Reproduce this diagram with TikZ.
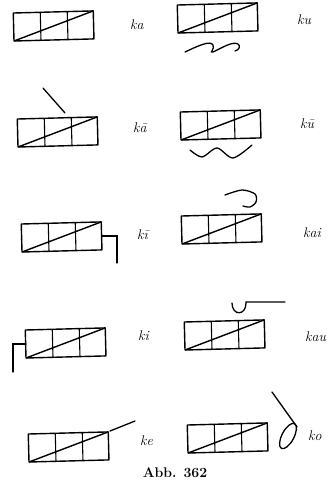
\documentclass[tikz,border=0pt]{standalone}
\usepackage{amsmath}
\usepackage{amssymb}
\usepackage{tikz}

% Grundzeichen: drei Felder mit Schraegstrich
\newcommand{\kasten}[2]{%
  \begin{scope}[shift={(#1,#2)},rotate=1.5]
    \draw[rahmen] (0,0) rectangle (80,-28);
    \draw[teil] (27,0) -- (27,-28) (54,0) -- (54,-28);
    \draw[rahmen] (0,0) -- (80,-28);
  \end{scope}}

\begin{document}
\begin{tikzpicture}[x=1pt,y=-1pt,
    rahmen/.style={line width=1.4pt,line join=round},
    teil/.style={line width=1.1pt},
    strich/.style={line width=1.3pt,line cap=round},
    silbe/.style={anchor=west,inner sep=0pt,font=\fontsize{14}{16}\selectfont\itshape}]
        \useasboundingbox (0,0) rectangle (331,484);
        % linke Spalte
        \kasten{14}{41}
        \node[silbe] (ka) at (130,25) {ka};
        \kasten{18}{147}
        \draw[strich] (43,88) -- (65,113);
        \node[silbe] (kaa) at (133,128) {k\=a};
        \kasten{22}{252}
        \draw[strich] (102,236) -- (117,236) -- (117,263);
        \node[silbe] (kii) at (137,235) {k\=\i};
        \kasten{26}{358}
        \draw[strich] (26,344) -- (13,344) -- (13,372);
        \node[silbe] (ki) at (138,336) {ki};
        \kasten{29}{462}
        \draw[strich] (110,431) -- (135,421);
        \node[silbe] (ke) at (140,441) {ke};
        % rechte Spalte
        \kasten{178}{33}
        \draw[strich] (185,52) .. controls (198,46) and (210,40) .. (213,45)
              .. controls (215,49) and (209,53) .. (213,52)
              .. controls (222,48) and (232,41) .. (238,44)
              .. controls (241,46) and (239,50) .. (235,51);
        \node[silbe] (ku) at (297,20) {ku};
        \kasten{181}{140}
        \draw[strich] plot[smooth] coordinates {(190,150) (202,157) (217,148) (233,158) (252,145)};
        \node[silbe] (kuu) at (300,124) {k\=u};
        \kasten{182}{244}
        \draw[strich] plot[smooth] coordinates {(225,195) (242,190) (255,194) (256,202) (250,207) (243,206)};
        \node[silbe] (kai) at (303,233) {kai};
        \kasten{185}{350}
        \draw[strich] (232,303) .. controls (232,316) and (246,316) .. (246,303) -- (246,302) -- (285,302);
        \node[silbe] (kau) at (305,337) {kau};
        \kasten{188}{453}
        \draw[strich] (272,392) -- (297,427);
        \draw[strich] (288,436) ellipse[x radius=14,y radius=6,rotate=62];
        \node[silbe] (ko) at (308,436) {ko};
        \node[font=\fontsize{14}{16}\selectfont\bfseries] (abb) at (175,473) {Abb. 362};
    \end{tikzpicture}
\end{document}
